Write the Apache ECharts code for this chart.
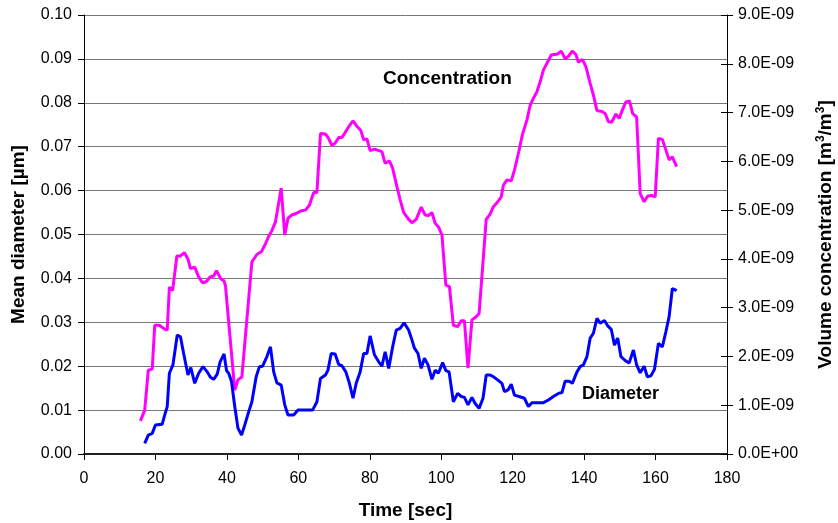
<!DOCTYPE html>
<html>
<head>
<meta charset="utf-8">
<script src="https://cdn.jsdelivr.net/npm/echarts@6/dist/echarts.min.js"></script>
<style>
  html, body { margin: 0; padding: 0; background: #fff; }
  #chart { width: 838px; height: 523px; }
</style>
</head>
<body>
<div id="chart"></div>
<script>
// volume concentration, in units of 1E-09 m3/m3 (right axis)
var concTime = [15.8, 17.0, 18.0, 19.1, 19.8, 21.1, 22.6, 23.3, 23.9, 24.8, 26.0, 27.0, 28.1, 29.1, 29.8, 31.0, 32.1, 33.2, 34.2, 35.3, 36.3, 37.1, 38.3, 39.2, 39.6, 42.2, 43.1, 44.2, 47.0, 48.4, 49.7, 50.8, 51.7, 52.6, 53.6, 55.2, 56.2, 57.1, 58.2, 59.4, 60.6, 62.0, 63.1, 64.3, 65.2, 66.2, 67.6, 68.3, 69.4, 70.3, 71.3, 72.2, 73.1, 74.1, 75.3, 76.4, 77.5, 78.3, 79.2, 80.1, 81.3, 83.4, 84.3, 85.5, 86.4, 87.6, 88.5, 89.5, 90.9, 91.8, 93.0, 94.4, 95.5, 96.4, 97.4, 98.3, 99.2, 100.2, 101.3, 102.3, 103.4, 104.6, 105.6, 106.5, 107.5, 108.6, 109.7, 110.6, 111.6, 112.6, 113.7, 114.6, 115.6, 116.8, 117.4, 118.4, 119.6, 120.5, 121.6, 122.7, 124.0, 124.9, 125.8, 126.8, 127.7, 128.6, 129.6, 130.8, 131.7, 132.6, 133.6, 134.7, 135.6, 136.7, 137.7, 138.4, 139.5, 140.5, 141.7, 142.6, 143.6, 145.0, 145.9, 146.8, 147.7, 148.9, 149.8, 150.7, 151.7, 152.7, 153.6, 154.7, 155.7, 156.8, 157.8, 158.9, 159.9, 160.8, 161.9, 162.9, 163.8, 164.7, 165.9]
var conc = [0.68, 0.90, 1.72, 1.74, 2.64, 2.64, 2.56, 2.54, 3.42, 3.35, 4.06, 4.06, 4.13, 4.00, 3.80, 3.83, 3.63, 3.51, 3.53, 3.63, 3.65, 3.76, 3.59, 3.55, 3.45, 1.31, 1.52, 1.58, 3.94, 4.09, 4.15, 4.31, 4.46, 4.58, 4.76, 5.45, 4.49, 4.83, 4.90, 4.93, 4.98, 5.00, 5.10, 5.36, 5.36, 6.57, 6.56, 6.49, 6.33, 6.37, 6.49, 6.49, 6.59, 6.71, 6.83, 6.72, 6.63, 6.44, 6.46, 6.22, 6.25, 6.20, 5.96, 6.01, 5.86, 5.48, 5.21, 4.95, 4.81, 4.74, 4.81, 5.06, 4.90, 4.89, 4.95, 4.73, 4.66, 4.49, 3.46, 3.43, 2.64, 2.61, 2.73, 2.73, 1.76, 2.75, 2.81, 2.88, 3.84, 4.81, 4.92, 5.07, 5.15, 5.27, 5.51, 5.62, 5.60, 5.82, 6.16, 6.54, 6.85, 7.15, 7.29, 7.43, 7.63, 7.87, 8.01, 8.18, 8.19, 8.20, 8.26, 8.10, 8.15, 8.26, 8.19, 8.03, 8.09, 7.94, 7.60, 7.36, 7.04, 7.02, 6.98, 6.81, 6.80, 6.97, 6.88, 7.05, 7.22, 7.24, 6.98, 6.91, 5.34, 5.17, 5.29, 5.30, 5.27, 6.47, 6.45, 6.23, 6.03, 6.09, 5.89]

// mean diameter, um (left axis)
var diamTime = [17.0, 18.0, 19.1, 20.0, 21.9, 22.6, 23.3, 23.9, 24.9, 26.1, 27.0, 27.9, 29.1, 29.9, 31.0, 32.1, 33.3, 34.5, 35.4, 36.3, 37.3, 38.1, 39.2, 39.9, 40.5, 41.3, 42.2, 43.1, 44.1, 45.0, 46.1, 47.0, 48.2, 49.1, 50.0, 51.2, 52.2, 53.1, 54.0, 55.2, 56.2, 57.1, 58.7, 59.9, 61.0, 64.0, 65.2, 66.2, 67.6, 68.3, 69.2, 70.3, 71.3, 72.2, 73.3, 74.3, 75.3, 76.2, 77.3, 78.3, 79.2, 80.1, 81.3, 82.5, 83.4, 84.3, 85.3, 86.4, 87.4, 88.5, 89.6, 90.9, 91.8, 92.5, 93.5, 94.4, 95.3, 96.3, 97.4, 98.3, 99.2, 100.4, 101.3, 102.2, 103.4, 104.6, 105.6, 106.5, 107.5, 108.6, 109.5, 110.6, 111.7, 112.6, 113.7, 114.6, 115.6, 117.0, 117.7, 118.7, 119.6, 120.5, 121.8, 123.3, 124.4, 125.4, 128.6, 130.0, 131.4, 132.8, 133.8, 134.7, 135.8, 136.7, 138.0, 138.9, 139.8, 140.8, 141.7, 142.6, 143.6, 144.5, 145.7, 146.6, 147.6, 148.5, 149.4, 150.3, 151.5, 152.6, 153.8, 154.7, 155.7, 156.8, 157.7, 158.7, 159.7, 160.8, 161.9, 162.9, 163.8, 164.7, 165.9]
var diam = [0.0024, 0.0043, 0.0047, 0.0066, 0.0068, 0.0089, 0.0108, 0.0184, 0.0203, 0.0271, 0.0267, 0.0229, 0.0180, 0.0197, 0.0161, 0.0184, 0.0199, 0.0187, 0.0175, 0.0170, 0.0182, 0.0210, 0.0228, 0.0190, 0.0184, 0.0165, 0.0108, 0.0059, 0.0043, 0.0066, 0.0096, 0.0119, 0.0176, 0.0199, 0.0200, 0.0222, 0.0244, 0.0187, 0.0162, 0.0157, 0.0112, 0.0089, 0.0089, 0.0100, 0.0100, 0.0100, 0.0119, 0.0172, 0.0180, 0.0191, 0.0229, 0.0228, 0.0204, 0.0201, 0.0187, 0.0161, 0.0127, 0.0161, 0.0187, 0.0229, 0.0229, 0.0269, 0.0226, 0.0210, 0.0200, 0.0233, 0.0195, 0.0244, 0.0282, 0.0286, 0.0299, 0.0282, 0.0260, 0.0241, 0.0229, 0.0195, 0.0218, 0.0203, 0.0170, 0.0191, 0.0184, 0.0208, 0.0190, 0.0187, 0.0119, 0.0138, 0.0131, 0.0129, 0.0112, 0.0129, 0.0115, 0.0104, 0.0127, 0.0180, 0.0180, 0.0176, 0.0170, 0.0161, 0.0142, 0.0146, 0.0159, 0.0134, 0.0131, 0.0127, 0.0108, 0.0117, 0.0117, 0.0123, 0.0131, 0.0138, 0.0140, 0.0166, 0.0166, 0.0161, 0.0187, 0.0199, 0.0203, 0.0222, 0.0264, 0.0275, 0.0309, 0.0298, 0.0304, 0.0292, 0.0284, 0.0248, 0.0264, 0.0222, 0.0213, 0.0207, 0.0237, 0.0203, 0.0185, 0.0200, 0.0176, 0.0178, 0.0193, 0.0252, 0.0244, 0.0279, 0.0313, 0.0377, 0.0372]

var font = 'Liberation Sans, Arial, sans-serif'

var chart = echarts.init(document.getElementById('chart'))

function pairs(xs, ys) {
  return xs.map(function(x, i) { return [x, ys[i]] })
}

var titleStyle = { fontSize: 19, fontWeight: 'bold', color: '#000', fontFamily: font }

chart.setOption({
  animation: false,
  backgroundColor: '#fff',
  textStyle: { fontFamily: font },
  grid: { left: 84, right: 111, top: 15, bottom: 69, outerBoundsMode: 'none', containLabel: false },
  xAxis: {
    type: 'value',
    min: 0,
    max: 180,
    interval: 20,
    name: 'Time [sec]',
    nameLocation: 'middle',
    nameGap: 47,
    nameTextStyle: titleStyle,
    axisLine: { onZero: false, lineStyle: { color: '#222', width: 2 } },
    axisTick: { show: true, length: 6, lineStyle: { color: '#000' } },
    axisLabel: { fontSize: 16, color: '#000', margin: 17, fontFamily: font },
    splitLine: { show: false }
  },
  yAxis: [
    {
      type: 'value',
      position: 'left',
      min: 0,
      max: 0.1,
      interval: 0.01,
      name: 'Mean diameter [µm]',
      nameLocation: 'middle',
      nameRotate: 90,
      nameGap: 56,
      nameTextStyle: titleStyle,
      axisLine: { show: true, lineStyle: { color: '#000' } },
      axisTick: { show: true, length: 6, lineStyle: { color: '#000' } },
      axisLabel: { fontSize: 16, color: '#000', margin: 12, fontFamily: font, formatter: function(v) { return v.toFixed(2) } },
      splitLine: { show: true, lineStyle: { color: '#777', width: 1 } }
    },
    {
      type: 'value',
      position: 'right',
      min: 0,
      max: 9,
      interval: 1,
      name: '{t|Volume concentration [m}{s|3}{t|/m}{s|3}{t|]}',
      nameLocation: 'middle',
      nameRotate: 90,
      nameGap: 88,
      nameTextStyle: {
        rich: {
          t: { fontSize: 19, fontWeight: 'bold', color: '#000', fontFamily: font, lineHeight: 22 },
          s: { fontSize: 12, fontWeight: 'bold', color: '#000', fontFamily: font, verticalAlign: 'top', lineHeight: 12 }
        }
      },
      axisLine: { show: true, lineStyle: { color: '#000' } },
      axisTick: { show: true, length: 6, lineStyle: { color: '#000' } },
      axisLabel: {
        fontSize: 16, color: '#000', margin: 11, fontFamily: font,
        formatter: function(v) { return v === 0 ? '0.0E+00' : v.toFixed(1) + 'E-09' }
      },
      splitLine: { show: false }
    },
    {
      // inner half of the crossing ticks on the right axis
      type: 'value',
      position: 'right',
      min: 0,
      max: 9,
      interval: 1,
      axisLine: { show: false },
      axisTick: { show: true, inside: true, length: 6, lineStyle: { color: '#000' } },
      axisLabel: { show: false },
      splitLine: { show: false }
    }
  ],
  graphic: [
    { type: 'text', left: 383, top: 69, style: { text: 'Concentration', font: 'bold 19px ' + font, fill: '#000' } },
    { type: 'text', left: 582, top: 385, style: { text: 'Diameter', font: 'bold 18px ' + font, fill: '#000' } }
  ],
  series: [
    {
      name: 'Concentration',
      type: 'line',
      yAxisIndex: 1,
      showSymbol: false,
      smooth: false,
      lineStyle: { color: '#ff00ff', width: 3 },
      itemStyle: { color: '#ff00ff' },
      data: pairs(concTime, conc)
    },
    {
      name: 'Diameter',
      type: 'line',
      yAxisIndex: 0,
      showSymbol: false,
      smooth: false,
      lineStyle: { color: '#0000ff', width: 3 },
      itemStyle: { color: '#0000ff' },
      data: pairs(diamTime, diam)
    }
  ]
})
</script>
</body>
</html>
